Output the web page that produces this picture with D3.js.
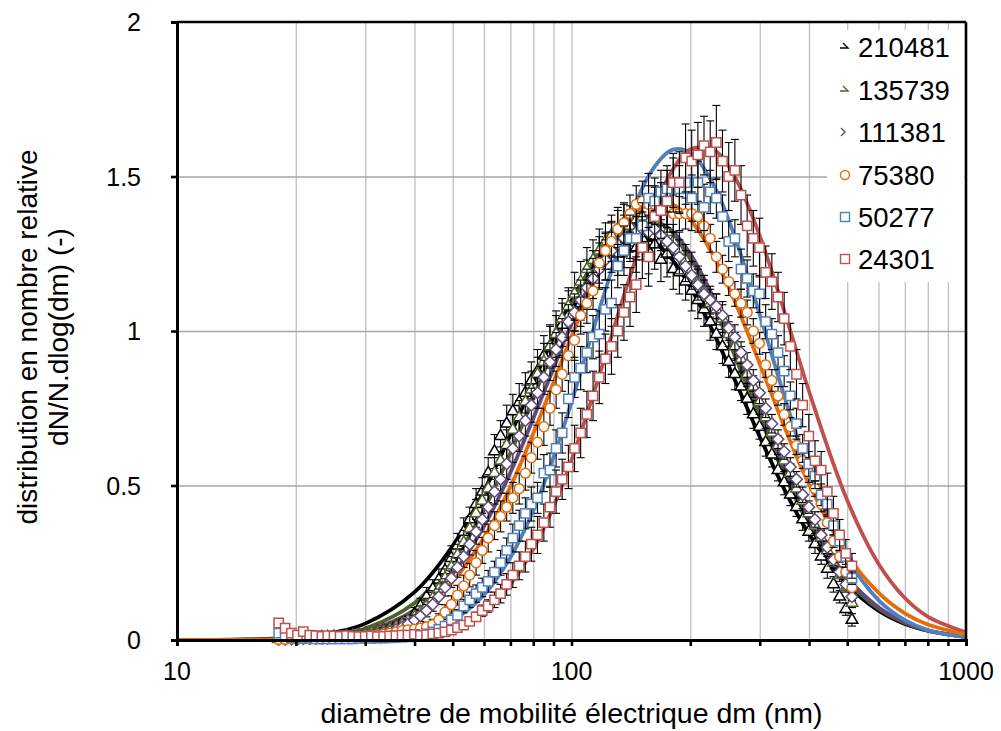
<!DOCTYPE html>
<html><head><meta charset="utf-8">
<script src="https://cdn.jsdelivr.net/npm/d3@7"></script>
<style>
body{margin:0;background:#fff}
text{font-family:Arial,"Liberation Sans",sans-serif;fill:#000}
</style>
</head><body>
<svg id="chart" width="1001" height="731"></svg>
<script>
// ---------- DATA ----------
const diameters = [18.1,18.8,19.5,20.2,20.9,21.7,22.5,23.3,24.1,25.0,
25.9,26.9,27.9,28.9,30.0,31.1,32.2,33.4,34.6,35.9,
37.2,38.5,40.0,41.4,42.9,44.5,46.1,47.8,49.6,51.4,
53.3,55.2,57.3,59.4,61.5,63.8,66.1,68.5,71.0,73.7,
76.4,79.1,82.0,85.1,88.2,91.4,94.7,98.2,101.8,105.5,
109.4,113.4,117.6,121.9,126.3,131.0,135.8,140.7,145.9,151.2,
156.8,162.5,168.5,174.7,181.1,187.7,194.6,201.7,209.1,216.7,
224.7,232.9,241.4,250.3,259.5,269.0,278.8,289.0,299.6,310.6,
322.0,333.8,346.0,358.7,371.8,385.4,399.5,414.2,429.4,445.1,
461.4,478.3,495.8,514.0];

const seriesNames = ["210481","135739","111381","75380","50277","24301"];

const meas210481 = [0.004,0.004,0.005,0.005,0.006,0.006,0.007,0.008,0.009,0.010,
0.011,0.012,0.014,0.016,0.019,0.022,0.026,0.031,0.037,0.044,
0.052,0.058,0.085,0.110,0.140,0.165,0.195,0.225,0.265,0.305,
0.350,0.390,0.440,0.480,0.540,0.610,0.660,0.700,0.740,0.770,
0.800,0.840,0.870,0.920,0.950,0.990,1.020,1.050,1.070,1.090,
1.150,1.190,1.220,1.240,1.270,1.250,1.290,1.310,1.270,1.300,
1.260,1.280,1.230,1.250,1.200,1.190,1.160,1.130,1.100,1.070,
1.030,0.990,0.950,0.900,0.860,0.820,0.780,0.730,0.690,0.640,
0.600,0.550,0.510,0.470,0.430,0.390,0.350,0.310,0.270,0.230,
0.180,0.140,0.100,0.065];
const meas135739 = [0.003,0.003,0.004,0.004,0.005,0.005,0.006,0.007,0.008,0.009,
0.010,0.012,0.014,0.016,0.019,0.023,0.025,0.029,0.035,0.042,
0.050,0.062,0.075,0.090,0.110,0.135,0.165,0.200,0.235,0.275,
0.315,0.360,0.410,0.450,0.490,0.540,0.580,0.630,0.680,0.720,
0.770,0.810,0.860,0.900,0.950,0.990,1.040,1.080,1.120,1.160,
1.200,1.230,1.260,1.290,1.310,1.330,1.350,1.340,1.360,1.370,
1.350,1.360,1.330,1.320,1.290,1.260,1.230,1.200,1.160,1.130,
1.090,1.070,1.040,0.990,0.950,0.910,0.860,0.820,0.770,0.720,
0.670,0.630,0.580,0.540,0.490,0.450,0.410,0.370,0.330,0.290,
0.250,0.210,0.170,0.120];
const meas111381 = [0.002,0.002,0.003,0.003,0.004,0.004,0.005,0.005,0.006,0.007,
0.008,0.009,0.010,0.012,0.014,0.016,0.019,0.023,0.028,0.034,
0.042,0.052,0.064,0.078,0.095,0.115,0.140,0.170,0.200,0.235,
0.270,0.310,0.350,0.390,0.430,0.480,0.520,0.570,0.620,0.660,
0.710,0.760,0.800,0.850,0.900,0.940,0.980,1.030,1.060,1.100,
1.140,1.170,1.200,1.230,1.260,1.280,1.300,1.310,1.320,1.330,
1.320,1.330,1.310,1.290,1.270,1.240,1.210,1.180,1.150,1.120,
1.100,1.080,1.050,1.010,0.980,0.930,0.890,0.840,0.800,0.750,
0.700,0.650,0.610,0.560,0.520,0.470,0.430,0.390,0.340,0.300,
0.260,0.220,0.180,0.140];
const meas75380 = [0.002,0.002,0.003,0.003,0.004,0.004,0.005,0.005,0.006,0.007,
0.008,0.009,0.010,0.011,0.012,0.014,0.016,0.019,0.022,0.026,
0.030,0.033,0.035,0.038,0.042,0.050,0.065,0.090,0.115,0.145,
0.175,0.210,0.250,0.290,0.330,0.370,0.400,0.430,0.460,0.490,
0.540,0.590,0.640,0.690,0.750,0.810,0.860,0.920,0.970,1.050,
1.090,1.130,1.220,1.260,1.290,1.330,1.350,1.380,1.410,1.420,
1.410,1.410,1.400,1.390,1.380,1.380,1.380,1.380,1.370,1.340,
1.300,1.240,1.200,1.160,1.120,1.090,1.060,1.000,0.960,0.890,
0.840,0.790,0.730,0.690,0.630,0.580,0.540,0.490,0.440,0.380,
0.320,0.270,0.220,0.170];
const meas50277 = [0.022,0.012,0.008,0.006,0.005,0.005,0.004,0.004,0.004,0.004,
0.004,0.004,0.004,0.005,0.005,0.005,0.006,0.006,0.007,0.008,
0.009,0.010,0.012,0.015,0.020,0.026,0.034,0.045,0.065,0.080,
0.110,0.130,0.150,0.170,0.190,0.220,0.250,0.290,0.330,0.370,
0.410,0.440,0.460,0.540,0.550,0.620,0.670,0.780,0.850,0.880,
0.930,0.980,0.990,1.070,1.090,1.210,1.260,1.300,1.300,1.340,
1.430,1.420,1.450,1.460,1.480,1.460,1.480,1.430,1.480,1.400,
1.450,1.430,1.370,1.290,1.300,1.200,1.170,1.130,1.120,1.030,
0.990,0.930,0.870,0.790,0.700,0.620,0.570,0.530,0.470,0.440,
0.370,0.320,0.270,0.200];
const meas24301 = [0.055,0.038,0.022,0.016,0.027,0.016,0.014,0.012,0.014,0.013,
0.012,0.014,0.012,0.011,0.012,0.013,0.011,0.012,0.013,0.014,
0.016,0.016,0.018,0.015,0.017,0.020,0.022,0.026,0.032,0.040,
0.048,0.060,0.075,0.095,0.110,0.130,0.150,0.180,0.210,0.240,
0.270,0.310,0.340,0.380,0.430,0.480,0.520,0.560,0.620,0.670,
0.730,0.790,0.850,0.910,0.950,1.000,1.060,1.110,1.150,1.270,
1.240,1.370,1.390,1.420,1.480,1.480,1.560,1.550,1.570,1.600,
1.580,1.610,1.550,1.500,1.520,1.440,1.340,1.300,1.270,1.190,
1.160,1.110,1.040,0.950,0.860,0.760,0.660,0.580,0.550,0.480,
0.410,0.340,0.280,0.240];

const err210481 = [0.002,0.002,0.002,0.003,0.003,0.003,0.003,0.004,0.004,0.004,
0.005,0.005,0.006,0.006,0.007,0.008,0.009,0.010,0.012,0.014,
0.016,0.018,0.020,0.025,0.030,0.030,0.035,0.035,0.040,0.040,
0.045,0.040,0.050,0.045,0.050,0.055,0.050,0.060,0.055,0.060,
0.065,0.060,0.070,0.065,0.070,0.075,0.070,0.080,0.070,0.075,
0.080,0.070,0.085,0.075,0.080,0.070,0.085,0.075,0.080,0.070,
0.075,0.080,0.070,0.075,0.065,0.070,0.060,0.065,0.060,0.055,
0.060,0.050,0.055,0.050,0.050,0.045,0.050,0.045,0.040,0.045,
0.040,0.035,0.040,0.035,0.030,0.035,0.030,0.030,0.025,0.030,
0.025,0.020,0.020,0.020];
const err135739 = [0.002,0.002,0.002,0.002,0.003,0.003,0.003,0.003,0.004,0.004,
0.004,0.005,0.005,0.006,0.006,0.007,0.008,0.009,0.010,0.012,
0.014,0.016,0.018,0.020,0.025,0.025,0.030,0.030,0.035,0.035,
0.040,0.040,0.045,0.040,0.045,0.050,0.045,0.050,0.050,0.055,
0.055,0.060,0.055,0.060,0.065,0.060,0.065,0.060,0.070,0.065,
0.070,0.065,0.070,0.060,0.065,0.070,0.060,0.065,0.060,0.065,
0.060,0.065,0.055,0.060,0.055,0.060,0.050,0.055,0.050,0.050,
0.045,0.050,0.045,0.040,0.045,0.040,0.040,0.035,0.040,0.035,
0.035,0.030,0.035,0.030,0.030,0.025,0.030,0.025,0.025,0.020,
0.020,0.020,0.015,0.015];
const err111381 = [0.002,0.002,0.002,0.002,0.002,0.003,0.003,0.003,0.003,0.004,
0.004,0.004,0.005,0.005,0.006,0.006,0.007,0.008,0.009,0.010,
0.012,0.014,0.016,0.018,0.020,0.022,0.025,0.028,0.030,0.032,
0.035,0.035,0.040,0.040,0.045,0.040,0.045,0.050,0.045,0.050,
0.050,0.055,0.050,0.055,0.060,0.055,0.060,0.055,0.060,0.065,
0.060,0.065,0.060,0.065,0.060,0.055,0.060,0.055,0.060,0.055,
0.055,0.060,0.050,0.055,0.050,0.055,0.050,0.045,0.050,0.045,
0.045,0.040,0.045,0.040,0.040,0.035,0.040,0.035,0.035,0.030,
0.030,0.030,0.025,0.030,0.025,0.025,0.020,0.025,0.020,0.020,
0.018,0.016,0.015,0.012];
const err75380 = [0.002,0.002,0.002,0.002,0.002,0.002,0.003,0.003,0.003,0.003,
0.004,0.004,0.004,0.005,0.005,0.006,0.006,0.007,0.008,0.009,
0.010,0.011,0.012,0.013,0.015,0.017,0.020,0.024,0.028,0.032,
0.035,0.038,0.040,0.042,0.045,0.045,0.050,0.045,0.050,0.050,
0.055,0.050,0.055,0.060,0.055,0.060,0.055,0.060,0.065,0.060,
0.065,0.060,0.065,0.060,0.065,0.060,0.065,0.060,0.060,0.065,
0.060,0.055,0.060,0.055,0.060,0.055,0.050,0.055,0.050,0.050,
0.045,0.050,0.045,0.045,0.040,0.045,0.040,0.040,0.035,0.040,
0.035,0.030,0.035,0.030,0.030,0.025,0.030,0.025,0.025,0.020,
0.020,0.018,0.016,0.014];
const err50277 = [0.004,0.003,0.002,0.002,0.002,0.002,0.002,0.002,0.002,0.002,
0.002,0.002,0.002,0.002,0.002,0.002,0.003,0.003,0.003,0.003,
0.004,0.004,0.005,0.005,0.006,0.008,0.010,0.012,0.015,0.018,
0.022,0.025,0.028,0.030,0.035,0.035,0.040,0.040,0.045,0.050,
0.050,0.055,0.050,0.060,0.055,0.060,0.065,0.060,0.065,0.070,
0.065,0.070,0.075,0.070,0.075,0.070,0.080,0.075,0.070,0.075,
0.080,0.075,0.070,0.075,0.080,0.075,0.070,0.075,0.070,0.075,
0.070,0.065,0.070,0.065,0.060,0.065,0.060,0.055,0.060,0.055,
0.050,0.055,0.050,0.045,0.050,0.045,0.040,0.040,0.035,0.035,
0.030,0.030,0.025,0.020];
const err24301 = [0.006,0.005,0.004,0.003,0.004,0.003,0.003,0.003,0.003,0.003,
0.003,0.003,0.003,0.003,0.003,0.003,0.003,0.003,0.003,0.003,
0.004,0.004,0.004,0.004,0.004,0.005,0.005,0.006,0.007,0.008,
0.010,0.012,0.015,0.018,0.020,0.025,0.030,0.035,0.040,0.045,
0.050,0.055,0.060,0.060,0.065,0.070,0.065,0.070,0.075,0.080,
0.075,0.080,0.085,0.080,0.090,0.085,0.090,0.095,0.090,0.100,
0.095,0.100,0.090,0.100,0.095,0.100,0.110,0.100,0.105,0.095,
0.100,0.120,0.100,0.110,0.100,0.095,0.100,0.090,0.095,0.085,
0.090,0.080,0.085,0.075,0.080,0.070,0.070,0.065,0.060,0.060,
0.055,0.050,0.045,0.040];

// fitted log-normal curves, read at these diameters
const fitDiameters = [10,15,20,25,30,40,50,60,70,80,90,100,120,140,160,180,200,230,260,300,350,400,500,600,700,800,1000];
const fit210481 = [0.0001,0.0017,0.0083,0.0245,0.053,0.155,0.305,0.482,0.664,0.833,0.979,1.099,1.252,1.308,1.293,1.231,1.143,0.990,0.839,0.658,0.476,0.343,0.179,0.095,0.052,0.030,0.010];
const fit135739 = [0.0001,0.0009,0.0049,0.0159,0.0374,0.120,0.254,0.422,0.605,0.783,0.944,1.082,1.272,1.358,1.364,1.315,1.231,1.076,0.916,0.721,0.522,0.374,0.193,0.101,0.055,0.030,0.010];
const fit111381 = [0.0000,0.0006,0.0034,0.0115,0.0283,0.097,0.214,0.368,0.542,0.717,0.879,1.022,1.229,1.336,1.359,1.324,1.250,1.103,0.945,0.748,0.545,0.392,0.202,0.106,0.057,0.031,0.010];
const fit75380  = [0.0000,0.0005,0.0028,0.0098,0.024,0.084,0.190,0.332,0.496,0.668,0.833,0.982,1.217,1.357,1.415,1.410,1.361,1.239,1.092,0.894,0.676,0.504,0.276,0.153,0.086,0.050,0.018];
const fit50277  = [0.0000,0.0000,0.0002,0.0009,0.0033,0.020,0.064,0.146,0.267,0.419,0.591,0.770,1.105,1.362,1.520,1.586,1.577,1.469,1.301,1.053,0.770,0.547,0.266,0.129,0.064,0.032,0.009];
const fit24301  = [0.0000,0.0000,0.0001,0.0005,0.0019,0.012,0.040,0.095,0.180,0.294,0.431,0.582,0.892,1.168,1.381,1.519,1.588,1.585,1.496,1.308,1.045,0.805,0.452,0.247,0.136,0.076,0.025];

const yTicks = [0, 0.5, 1, 1.5, 2];
const yTickLabels = ["0", "0.5", "1", "1.5", "2"];
const xMajorTicks = [10, 100, 1000];
const xMajorLabels = ["10", "100", "1000"];
const xMinorTicks = [20,30,40,50,60,70,80,90,200,300,400,500,600,700,800,900];

const xTitle = "diamètre de mobilité électrique dm (nm)";
const yTitle1 = "distribution en nombre relative";
const yTitle2 = "dN/N.dlog(dm) (-)";

// ---------- STYLES ----------
const styles = {
  "210481": {color:"#000000", line:"#000000", marker:"triangle"},
  "135739": {color:"#4F6228", line:"#4F6228", marker:"triangle"},
  "111381": {color:"#604A7B", line:"#604A7B", marker:"diamond"},
  "75380":  {color:"#E46C0A", line:"#E46C0A", marker:"circle"},
  "50277":  {color:"#4F81BD", line:"#4F81BD", marker:"square"},
  "24301":  {color:"#C0504D", line:"#C0504D", marker:"square"}
};
const meas = {"210481":meas210481,"135739":meas135739,"111381":meas111381,"75380":meas75380,"50277":meas50277,"24301":meas24301};
const errs = {"210481":err210481,"135739":err135739,"111381":err111381,"75380":err75380,"50277":err50277,"24301":err24301};
const fits = {"210481":fit210481,"135739":fit135739,"111381":fit111381,"75380":fit75380,"50277":fit50277,"24301":fit24301};

// ---------- LAYOUT ----------
const L = 177, R = 966, T = 22, B = 640;
const svg = d3.select("#chart");
const x = d3.scaleLog().domain([10, 1000]).range([L, R]);
const y = d3.scaleLinear().domain([0, 2]).range([B, T]);

// gridlines
const grid = svg.append("g");
grid.append("g").attr("transform", `translate(0,${B})`)
  .call(d3.axisBottom(x).tickValues(xMinorTicks.concat([100])).tickSize(-(B - T)).tickFormat(""))
  .call(g => g.select(".domain").remove())
  .call(g => g.selectAll("line").attr("stroke", "#BFBFBF").attr("stroke-width", 1.3));
grid.append("g").attr("transform", `translate(${L},0)`)
  .call(d3.axisLeft(y).tickValues([0.5, 1, 1.5]).tickSize(-(R - L)).tickFormat(""))
  .call(g => g.select(".domain").remove())
  .call(g => g.selectAll("line").attr("stroke", "#A6A6A6").attr("stroke-width", 1.3));

// fitted curves
const lineGen = (vals) => d3.line()
  .x((d, i) => x(fitDiameters[i]))
  .y(d => y(d))
  .curve(d3.curveCatmullRom.alpha(0.5))(vals);
const lineOrder = ["210481","135739","111381","50277","24301","75380"];
const plot = svg.append("g");
lineOrder.forEach(k => {
  plot.append("path").attr("d", lineGen(fits[k]))
    .attr("fill", "none").attr("stroke", styles[k].line)
    .attr("stroke-width", 3.8).attr("stroke-linejoin", "round");
});

// marker paths
function markerPath(type) {
  if (type === "triangle") return d3.symbol().type(d3.symbolTriangle).size(58)();
  if (type === "square") return d3.symbol().type(d3.symbolSquare).size(86)();
  if (type === "circle") return d3.symbol().type(d3.symbolCircle).size(76)();
  if (type === "diamond") return "M0,-5.8L5.8,0L0,5.8L-5.8,0Z";
}

// measured series with error bars
seriesNames.forEach(k => {
  const st = styles[k];
  const g = plot.append("g");
  const data = diameters.map((d, i) => ({d, v: meas[k][i], e: errs[k][i]}));
  const eb = g.append("g").attr("stroke", "#000").attr("stroke-width", 1.1);
  data.forEach(p => {
    const cx = x(p.d), y1 = y(p.v + p.e), y0 = y(Math.max(0, p.v - p.e));
    eb.append("line").attr("x1", cx).attr("x2", cx).attr("y1", y1).attr("y2", y0);
    eb.append("line").attr("x1", cx - 4).attr("x2", cx + 4).attr("y1", y1).attr("y2", y1);
    eb.append("line").attr("x1", cx - 4).attr("x2", cx + 4).attr("y1", y0).attr("y2", y0);
  });
  g.selectAll("path.m").data(data).enter().append("path")
    .attr("class", "m")
    .attr("d", markerPath(st.marker))
    .attr("transform", p => `translate(${x(p.d)},${y(p.v)})`)
    .attr("fill", "#fff").attr("stroke", st.color).attr("stroke-width", 1.5);
});

// axes frame
const frame = svg.append("g");
frame.append("line").attr("x1", L).attr("x2", R).attr("y1", T).attr("y2", T).attr("stroke", "#000").attr("stroke-width", 2.6);
frame.append("line").attr("x1", R).attr("x2", R).attr("y1", T).attr("y2", B).attr("stroke", "#000").attr("stroke-width", 2.6);

// x axis
const xAxis = svg.append("g").attr("transform", `translate(0,${B})`)
  .call(d3.axisBottom(x).tickValues(xMajorTicks.concat(xMinorTicks)).tickSize(6).tickFormat(""));
xAxis.select(".domain").attr("stroke", "#000").attr("stroke-width", 3);
xAxis.selectAll(".tick line").attr("stroke", "#000").attr("stroke-width", 2.6);
svg.append("g").selectAll("text").data(xMajorTicks).enter().append("text")
  .attr("x", d => x(d)).attr("y", B + 40).attr("text-anchor", "middle")
  .attr("font-size", 25).text((d, i) => xMajorLabels[i]);

// y axis
const yAxis = svg.append("g").attr("transform", `translate(${L},0)`)
  .call(d3.axisLeft(y).tickValues(yTicks).tickSize(6).tickFormat(""));
yAxis.select(".domain").attr("stroke", "#000").attr("stroke-width", 3);
yAxis.selectAll(".tick line").attr("stroke", "#000").attr("stroke-width", 2.6);
svg.append("g").selectAll("text").data(yTicks).enter().append("text")
  .attr("x", 141).attr("y", d => y(d) + 9).attr("text-anchor", "end")
  .attr("font-size", 25).text((d, i) => yTickLabels[i]);

// titles
svg.append("text").attr("x", (L + R) / 2).attr("y", 723).attr("text-anchor", "middle")
  .attr("font-size", 28.5).text(xTitle);
const yt = svg.append("text").attr("transform", "translate(0,337) rotate(-90)")
  .attr("text-anchor", "middle").attr("font-size", 28);
yt.append("tspan").attr("x", 0).attr("y", 37).text(yTitle1);
yt.append("tspan").attr("x", 0).attr("y", 68).text(yTitle2);

// legend
const lg = svg.append("g");
lg.append("rect").attr("x", 827).attr("y", 30).attr("width", 137).attr("height", 252).attr("fill", "#fff");
const legY = [47, 90, 132, 175, 217, 259];
const legMark = {
  "210481": "M843,43L848,48L840,48",
  "135739": "M843,86L848,91L840,91",
  "111381": "M841,128L845,132L841,136",
};
seriesNames.forEach((k, i) => {
  const st = styles[k];
  const cy = legY[i];
  if (st.marker === "circle") {
    lg.append("circle").attr("cx", 845).attr("cy", cy).attr("r", 4.5)
      .attr("fill", "#fff").attr("stroke", st.color).attr("stroke-width", 1.4);
  } else if (st.marker === "square") {
    lg.append("rect").attr("x", 840.5).attr("y", cy - 4.5).attr("width", 9).attr("height", 9)
      .attr("fill", "#fff").attr("stroke", st.color).attr("stroke-width", 1.4);
  } else {
    lg.append("path").attr("d", legMark[k]).attr("fill", "none")
      .attr("stroke", st.color).attr("stroke-width", 1.4);
  }
  lg.append("text").attr("x", 858).attr("y", cy + 10).attr("font-size", 27.5).text(k);
});
</script>
</body></html>
